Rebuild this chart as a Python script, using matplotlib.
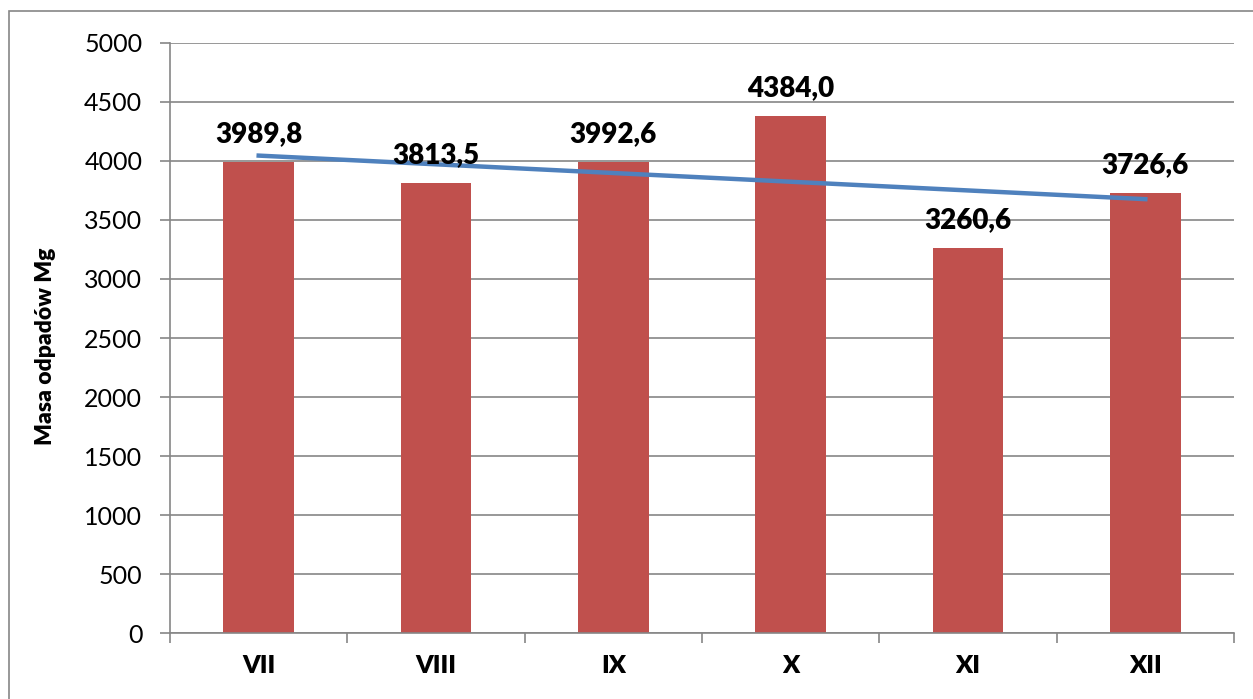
import matplotlib.pyplot as plt
import matplotlib.patches as mpatches
import numpy as np

months = ['VII', 'VIII', 'IX', 'X', 'XI', 'XII']
masa = [3989.8, 3813.5, 3992.6, 4384.0, 3260.6, 3726.6]
etykiety = ['3989,8', '3813,5', '3992,6', '4384,0', '3260,6', '3726,6']

plt.rcParams['font.family'] = ['Lato', 'DejaVu Sans']

fig = plt.figure(figsize=(12.53, 6.99), dpi=100)
ax = fig.add_axes([0.1357, 0.0944, 0.8491, 0.8441])

x = np.arange(len(months))
ax.bar(x, masa, width=0.4, color='#C0504D', zorder=2)

# linia trendu (liniowa)
a, b = np.polyfit(x, masa, 1)
ax.plot(x, a * x + b, color='#4F81BD', linewidth=3.2, zorder=3)

for xi, v, t in zip(x, masa, etykiety):
    ax.annotate(t, (xi, v), xytext=(0, 20), textcoords='offset points',
                ha='center', va='center', fontsize=20, fontweight='heavy', zorder=4)

ax.set_xlim(-0.5, len(months) - 0.5)
ax.set_ylim(0, 5000)
ax.set_yticks(np.arange(0, 5001, 500))
ax.set_xticks(x)
ax.set_xticklabels(months, fontsize=18, fontweight='heavy')
ax.set_xticks(np.arange(-0.5, len(months), 1), minor=True)
ax.tick_params(axis='x', which='major', length=0, pad=16)
ax.tick_params(axis='x', which='minor', length=7, color='#868686', width=1.2)
ax.tick_params(axis='y', labelsize=18, length=7, color='#868686', width=1.2, pad=13)
ax.grid(axis='y', color='#868686', linewidth=1.2, zorder=0)
ax.set_axisbelow(True)
for s in ['top', 'right']:
    ax.spines[s].set_visible(False)
for s in ['left', 'bottom']:
    ax.spines[s].set_color('#868686')
    ax.spines[s].set_linewidth(1.2)
ax.set_ylabel('Masa odpadów Mg', fontsize=16.5, fontweight='heavy', va='center')
ax.yaxis.set_label_coords(-0.1175, 0.486)

frame = mpatches.Rectangle((9 / 1253, -0.1), 1.2, 1 - 11 / 699 + 0.1, transform=fig.transFigure,
                           fill=False, edgecolor='#868686', linewidth=1.2, clip_on=False)
fig.patches.append(frame)

fig.savefig('out.png', dpi=100)
